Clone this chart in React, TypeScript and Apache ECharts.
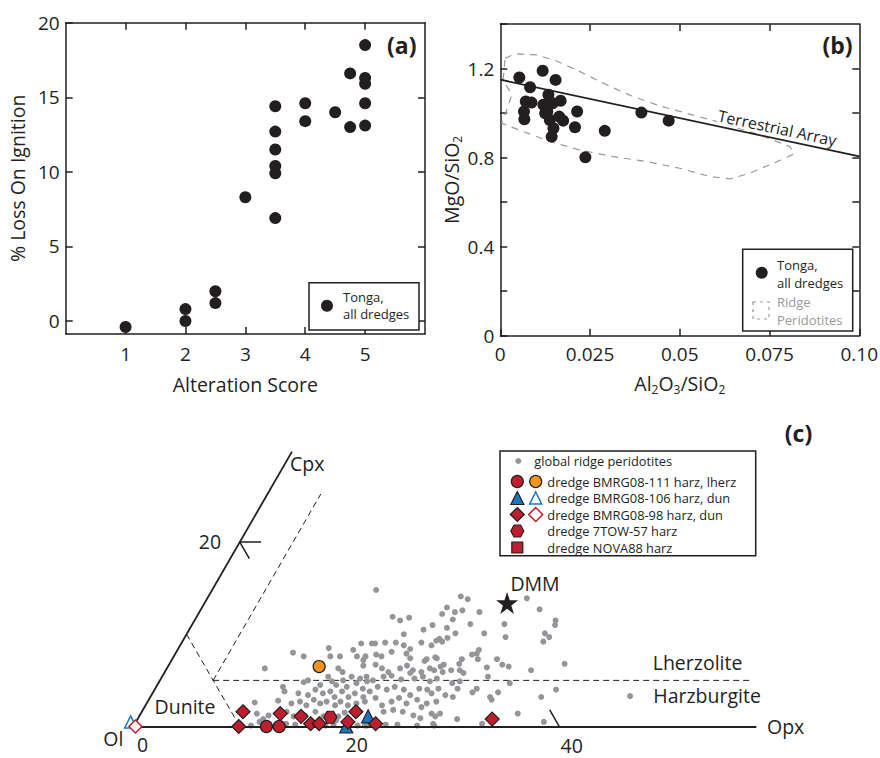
import { useEffect, useRef } from "react";
import * as echarts from "echarts";

const FONT = "'Open Sans', 'Noto Sans', sans-serif";
const INK = "#231f20";
const GREY = "#939598";
const RED = "#be1e2d";
const ORANGE = "#f7941d";
const BLUE = "#1c75bc";

// (a) LOI against alteration score
const alterationScore = [1, 2, 2, 2.5, 2.5, 3, 3.5, 3.5, 3.5, 3.5, 3.5, 3.5, 4, 4, 4.5, 4.75, 4.75, 5, 5, 5, 5, 5];
const lossOnIgnition = [-0.4, 0.8, 0, 2.0, 1.2, 8.3, 14.4, 12.7, 11.5, 10.4, 9.9, 6.9, 14.6, 13.4, 14.0, 16.6, 13.0, 18.5, 16.3, 15.9, 14.6, 13.1];
const scoreTicks = [1, 2, 3, 4, 5];
const loiTicks = [0, 5, 10, 15, 20];

// (b) MgO/SiO2 against Al2O3/SiO2
const tongaAl = [0.0053, 0.0118, 0.0154, 0.0083, 0.0071, 0.0087, 0.0066, 0.0067, 0.0134, 0.012, 0.0131, 0.0146, 0.0168, 0.0138, 0.0148, 0.0143, 0.0164, 0.0175, 0.0214, 0.0208, 0.0237, 0.0291, 0.0393, 0.0469, 0.0125];
const tongaMg = [1.16, 1.19, 1.149, 1.116, 1.052, 1.047, 1.007, 0.972, 1.082, 1.037, 1.007, 1.044, 1.055, 0.969, 0.932, 0.894, 0.984, 0.966, 1.007, 0.936, 0.801, 0.92, 1.002, 0.966, 0.999];
const ridgeFieldAl = [0.0013, 0.0041, 0.0101, 0.0157, 0.0222, 0.0296, 0.037, 0.0445, 0.0519, 0.0603, 0.0723, 0.0807, 0.0818, 0.076, 0.0695, 0.064, 0.0584, 0.05, 0.0408, 0.0315, 0.0222, 0.0138, 0.0064, 0.0004, 0.0018, 0.0032, 0.0008, 0.0013];
const ridgeFieldMg = [1.246, 1.266, 1.261, 1.234, 1.186, 1.127, 1.074, 1.032, 0.999, 0.962, 0.902, 0.849, 0.816, 0.774, 0.73, 0.704, 0.715, 0.752, 0.782, 0.804, 0.834, 0.872, 0.917, 0.954, 1.014, 1.082, 1.149, 1.246];
const terrestrialAl = [0, 0.1];
const terrestrialMg = [1.15, 0.805];
const alTicks = [0, 0.025, 0.05, 0.075, 0.1];
const mgTicks = [0, 0.2, 0.4, 0.6, 0.8, 1.0, 1.2, 1.4];
const mgLabels = [0, 0.4, 0.8, 1.2];

// (c) modal Opx / Cpx (Ol = remainder), [opx, cpx]
const ridgePeridotites: [number, number][] = [
  [15.4, 14.8], [23.7, 14.1], [24.5, 13.8], [18.4, 11.9], [19.3, 11.5], [20.0, 11.8], [23.0, 12.9], [22.9, 12.2],
  [24.0, 12.4], [24.2, 11.6], [24.6, 12.6], [26.1, 11.1], [26.3, 12.4], [22.6, 11.0], [22.0, 10.5], [24.1, 10.7],
  [20.4, 10.0], [25.2, 10.1], [24.7, 9.6], [23.8, 9.3], [23.6, 8.8], [22.5, 9.1], [16.9, 9.0], [17.9, 9.0],
  [18.2, 9.0], [19.1, 9.1], [20.1, 9.1], [21.0, 8.8], [21.8, 8.4], [14.1, 8.5], [16.5, 8.3], [29.3, 11.1],
  [30.1, 9.7], [30.0, 13.9], [31.8, 12.7], [33.9, 11.5], [34.1, 11.0], [33.6, 10.1], [33.9, 9.2], [34.2, 9.7],
  [24.0, 9.5], [27.9, 10.1], [28.3, 8.3], [11.0, 8.0], [12.2, 7.6], [9.2, 6.3], [27.2, 7.3], [27.2, 6.8],
  [30.0, 6.4], [30.5, 7.3], [31.3, 6.7], [32.0, 6.5], [34.3, 6.1], [37.1, 6.8], [27.9, 7.8], [28.3, 7.9],
  [28.7, 7.3], [23.9, 7.3], [24.6, 7.5], [25.2, 6.1], [25.8, 6.7], [27.6, 6.1], [28.1, 5.8], [27.6, 4.7],
  [28.4, 4.1], [30.6, 5.4], [33.0, 4.7], [30.2, 4.1], [30.0, 3.7], [31.9, 3.2], [32.2, 2.9], [32.4, 3.7],
  [37.7, 4.0], [36.7, 3.2], [45.0, 3.3], [30.0, 0.8], [32.6, 0.3], [35.4, 1.4], [38.3, 0.5], [27.8, 1.1],
  [28.0, 0.3], [28.1, 1.4], [24.4, 9.2], [18.0, 7.6], [18.9, 7.8], [19.5, 7.6], [20.2, 8.1], [21.7, 7.9],
  [22.3, 7.4], [23.8, 7.1], [24.8, 7.4], [18.3, 6.6], [19.4, 6.7], [20.2, 6.3], [21.0, 5.9], [21.9, 6.3],
  [22.4, 6.6], [23.2, 6.1], [24.1, 5.9], [24.7, 6.3], [25.6, 6.5], [26.1, 5.9], [26.8, 6.1], [19.2, 5.4],
  [20.0, 5.0], [20.8, 5.4], [21.5, 5.5], [22.6, 5.1], [23.1, 5.8], [23.8, 5.2], [24.5, 5.4], [25.4, 4.9],
  [25.9, 5.2], [28.2, 4.9], [19.5, 4.1], [20.3, 3.8], [20.8, 4.3], [21.8, 4.0], [22.4, 4.3], [23.4, 4.0],
  [24.3, 3.4], [24.8, 4.1], [25.6, 4.0], [26.2, 3.6], [26.6, 4.1], [27.6, 3.4], [28.4, 3.2], [20.4, 2.7],
  [21.2, 3.1], [22.2, 2.3], [22.9, 2.7], [23.4, 3.1], [24.4, 2.5], [25.2, 2.9], [26.0, 2.1], [26.3, 2.5],
  [27.1, 2.7], [22.7, 1.6], [23.5, 1.8], [24.5, 1.6], [25.7, 1.2], [26.5, 0.9], [27.3, 1.4], [21.7, 0.1],
  [23.6, 0.2], [24.7, 0.2], [26.6, 0.1], [28.2, 0.1], [14.7, 7.6], [15.6, 7.6], [17.2, 7.6], [18.0, 7.2],
  [16.1, 6.3], [16.7, 5.9], [13.9, 5.0], [13.6, 4.8], [15.3, 4.5], [15.6, 5.4], [16.2, 4.9], [16.8, 4.5],
  [17.2, 5.0], [17.9, 4.3], [17.8, 5.4], [18.6, 4.7], [18.7, 5.2], [19.5, 4.9], [11.9, 4.3], [12.3, 3.8],
  [13.7, 3.6], [14.7, 3.4], [15.1, 4.0], [16.0, 3.6], [16.6, 3.8], [17.3, 3.2], [17.7, 3.8], [18.6, 3.2],
  [19.0, 3.6], [20.0, 3.2], [10.1, 2.6], [12.2, 2.8], [13.6, 2.5], [14.3, 2.7], [15.1, 2.3], [15.5, 2.9],
  [16.3, 2.5], [16.8, 2.7], [17.8, 2.3], [18.1, 2.7], [19.0, 2.3], [19.7, 2.5], [10.9, 1.4], [12.1, 1.2],
  [13.6, 1.6], [14.5, 1.1], [15.5, 1.2], [16.3, 1.6], [17.3, 1.1], [17.8, 1.2], [18.7, 1.1], [19.1, 1.5],
  [11.0, 0.1], [11.6, 0.5], [14.2, 0.3], [15.1, 0.2], [18.0, 0.1], [18.7, 0.2], [18.7, 0.7], [21.0, 0.1],
  [21.9, 0.1], [11.8, 0.8],
];
const bmrg111Harz: [number, number][] = [[12.5, 0], [13.7, 0]];
const bmrg111Lherz: [number, number][] = [[14.2, 6.5]];
const bmrg106Harz: [number, number][] = [[20.0, 0], [21.5, 1.1]];
const bmrg106Dun: [number, number][] = [[-0.5, 0.5]];
const bmrg98Harz: [number, number][] = [
  [9.5, 1.6], [9.9, 0], [13.1, 1.4], [15.2, 1.1], [16.5, 0.3], [17.3, 0.3], [20.1, 1.6], [19.9, 0.5], [22.6, 0.3], [33.3, 0.8],
];
const bmrg98Dun: [number, number][] = [[0.2, 0]];
const tow57Harz: [number, number][] = [[18.0, 1.0]];
const nova88Harz: [number, number][] = [];
const dmm: [number, number][] = [[28.4, 13.4]];

const duniteBoundary: [number, number][] = [[0, 10], [9.1, 0.9]];
const cpx5Boundary: [number, number][] = [[5, 5], [55.7, 5]];
const opx5Boundary: [number, number][] = [[5, 5], [5, 25.2]];
const cpxTickMark: [number, number][] = [[2, 20], [0, 20], [1.8, 18.2]];
const opxTickMark: [number, number][] = [[40, 0], [38.2, 1.8]];
const opxAxisEnd: [number, number] = [58.5, 0];
const cpxAxisEnd: [number, number] = [0, 29.8];

const toTernary = ([opx, cpx]: [number, number]) => [opx + cpx / 2, (cpx * Math.sqrt(3)) / 2];

const STAR = "path://M12,0L14.9,8.6L24,8.6L16.6,14L19.4,22.8L12,17.4L4.6,22.8L7.4,14L0,8.6L9.1,8.6Z";
const HEX = "path://M0,5L3,0L9,0L12,5L9,10L3,10Z";

const axisLine = { color: INK, width: 1.5 };

function frameAxis(
  gridIndex: number,
  position: string,
  min: number,
  max: number,
  ticks: number[],
  labels: number[] | null,
  margin: number,
  formatter?: (v: number) => string,
) {
  return {
    type: "value",
    gridIndex,
    position,
    min,
    max,
    axisLine: { show: true, onZero: false, lineStyle: axisLine },
    axisTick: { show: true, inside: true, length: 7, customValues: ticks, lineStyle: axisLine },
    axisLabel: labels
      ? { show: true, customValues: labels, fontSize: 19, fontFamily: FONT, color: INK, margin, formatter }
      : { show: false },
    splitLine: { show: false },
  };
}

const nameStyle = {
  fontSize: 19.5,
  fontFamily: FONT,
  color: INK,
  lineHeight: 24,
  rich: { s: { fontSize: 12, fontFamily: FONT, color: INK, lineHeight: 12, verticalAlign: "bottom" } },
};

function txt(x: number, y: number, text: string, extra: Record<string, unknown> = {}) {
  const align = (extra.align as string) || "center";
  return {
    type: "text",
    x,
    y,
    z: 100,
    silent: true,
    style: {
      text,
      fontSize: 19.5,
      fontFamily: FONT,
      fill: INK,
      align,
      textAlign: align,
      verticalAlign: "middle",
      textVerticalAlign: "middle",
      ...extra,
    },
  };
}

const legendText = (x: number, y: number, text: string, fill = INK, fontSize = 13) =>
  txt(x, y, text, { fontSize, lineHeight: 14, align: "left", fill });

function triangle(cx: number, cy: number, s: number) {
  return [[cx, cy - s / 2], [cx + s / 2, cy + s / 2], [cx - s / 2, cy + s / 2]];
}
function diamond(cx: number, cy: number, s: number) {
  return [[cx, cy - s / 2], [cx + s / 2, cy], [cx, cy + s / 2], [cx - s / 2, cy]];
}
function hexagon(cx: number, cy: number) {
  return [[cx - 6.5, cy], [cx - 3.3, cy - 6], [cx + 3.3, cy - 6], [cx + 6.5, cy], [cx + 3.3, cy + 6], [cx - 3.3, cy + 6]];
}

const filled = (fill: string) => ({ fill, stroke: INK, lineWidth: 1.2 });
const open = (stroke: string) => ({ fill: "#fff", stroke, lineWidth: 1.5 });

function buildGraphic() {
  const rowY = [461, 481.5, 498, 514.5, 531, 547.5];
  const c1 = 517.3;
  const c2 = 535.7;
  const lc = (x: number, y: number, t: string) => legendText(x, y, t, INK, 12.8);
  return [
    txt(401.7, 45, "(a)", { fontSize: 23, fontWeight: "bold" }),
    txt(837.5, 45, "(b)", { fontSize: 23, fontWeight: "bold" }),
    txt(798.5, 433, "(c)", { fontSize: 23, fontWeight: "bold" }),
    // legend (a)
    { type: "rect", z: 99, shape: { x: 309, y: 282.7, width: 110, height: 47.3 }, style: { fill: "#fff", stroke: INK, lineWidth: 1.5 } },
    { type: "circle", z: 100, shape: { cx: 327, cy: 305.7, r: 6 }, style: { fill: INK } },
    legendText(343, 297, "Tonga,"),
    legendText(343, 314, "all dredges"),
    // legend (b)
    { type: "rect", z: 99, shape: { x: 742.7, y: 249.3, width: 110, height: 81.7 }, style: { fill: "#fff", stroke: INK, lineWidth: 1.5 } },
    { type: "circle", z: 100, shape: { cx: 761.7, cy: 272.7, r: 6 }, style: { fill: INK } },
    { type: "rect", z: 100, shape: { x: 753, y: 302, width: 16, height: 17 }, style: { fill: "none", stroke: "#999", lineWidth: 1.2, lineDash: [3, 4] } },
    legendText(777, 265, "Tonga,"),
    legendText(777, 282.7, "all dredges"),
    legendText(777, 301.7, "Ridge", "#9a9a9a"),
    legendText(777, 320, "Peridotites", "#9a9a9a"),
    // Terrestrial array label
    {
      type: "text",
      x: 777.3,
      y: 128,
      rotation: -0.21,
      z: 50,
      silent: true,
      style: {
        text: "Terrestrial Array",
        fontSize: 16,
        fontFamily: FONT,
        fill: INK,
        align: "center",
        textAlign: "center",
        verticalAlign: "middle",
        textVerticalAlign: "middle",
        backgroundColor: "#fff",
      },
    },
    // legend (c)
    { type: "rect", z: 99, shape: { x: 500, y: 451, width: 255.7, height: 104.7 }, style: { fill: "#fff", stroke: INK, lineWidth: 1.5 } },
    { type: "circle", z: 100, shape: { cx: 518.3, cy: rowY[0], r: 3 }, style: { fill: GREY } },
    lc(534.3, rowY[0], "global ridge peridotites"),
    { type: "circle", z: 100, shape: { cx: c1, cy: rowY[1], r: 6 }, style: filled(RED) },
    { type: "circle", z: 100, shape: { cx: c2, cy: rowY[1], r: 6 }, style: filled(ORANGE) },
    lc(547.3, rowY[1], "dredge BMRG08-111 harz, lherz"),
    { type: "polygon", z: 100, shape: { points: triangle(c1, rowY[2], 13) }, style: filled(BLUE) },
    { type: "polygon", z: 100, shape: { points: triangle(c2, rowY[2], 12) }, style: open(BLUE) },
    lc(547.3, rowY[2], "dredge BMRG08-106 harz, dun"),
    { type: "polygon", z: 100, shape: { points: diamond(c1, rowY[3], 14) }, style: filled(RED) },
    { type: "polygon", z: 100, shape: { points: diamond(c2, rowY[3], 14) }, style: open(RED) },
    lc(547.3, rowY[3], "dredge BMRG08-98 harz, dun"),
    { type: "polygon", z: 100, shape: { points: hexagon(c1, rowY[4]) }, style: filled(RED) },
    lc(547.3, rowY[4], "dredge 7TOW-57 harz"),
    { type: "rect", z: 100, shape: { x: c1 - 5.5, y: rowY[5] - 5.5, width: 11, height: 11 }, style: filled(RED) },
    lc(547.3, rowY[5], "dredge NOVA88 harz"),
    // (c) axis labels and field names
    txt(290, 463, "Cpx", { align: "left" }),
    txt(767, 726, "Opx", { align: "left" }),
    txt(113.3, 738.3, "Ol"),
    txt(210, 541, "20"),
    txt(142.7, 744.5, "0", { lineHeight: 18 }),
    txt(356.7, 744.5, "20", { lineHeight: 18 }),
    txt(571.7, 745, "40", { lineHeight: 18 }),
    txt(185, 706, "Dunite"),
    txt(535, 583.3, "DMM"),
    txt(652.7, 662.7, "Lherzolite", { align: "left" }),
    txt(653.3, 695, "Harzburgite", { align: "left" }),
  ];
}

function buildOption() {
  const tern = (pts: [number, number][]) => pts.map(toTernary);
  const cLine = (pts: [number, number][], dashed: boolean, width = 1) => ({
    type: "line",
    xAxisIndex: 4,
    yAxisIndex: 4,
    data: tern(pts),
    symbol: "none",
    silent: true,
    lineStyle: { color: INK, width, type: dashed ? [6, 4] : "solid" },
    z: 1,
  });
  const cScatter = (pts: [number, number][], symbol: string, size: number | number[], itemStyle: object, z = 5) => ({
    type: "scatter",
    xAxisIndex: 4,
    yAxisIndex: 4,
    data: tern(pts),
    symbol,
    symbolSize: size,
    itemStyle,
    silent: true,
    z,
  });
  const fillItem = (color: string) => ({ color, borderColor: INK, borderWidth: 1.2, opacity: 1 });
  const openItem = (color: string) => ({ color: "#fff", borderColor: color, borderWidth: 1.5, opacity: 1 });

  return {
    animation: false,
    textStyle: { fontFamily: FONT },
    grid: [
      { left: 65.7, top: 22.7, width: 359.3, height: 311.3, outerBoundsMode: "none" },
      { left: 500.3, top: 24, width: 359, height: 311.7, outerBoundsMode: "none" },
      { left: 80.05, top: 428.3, width: 718.875, height: 319.5, outerBoundsMode: "none" },
    ],
    xAxis: [
      {
        ...frameAxis(0, "bottom", 0, 6, scoreTicks, scoreTicks, 10),
        name: "Alteration Score",
        nameLocation: "middle",
        nameGap: 38,
        nameTextStyle: nameStyle,
      },
      frameAxis(0, "top", 0, 6, scoreTicks, null, 0),
      {
        ...frameAxis(1, "bottom", 0, 0.1, alTicks, alTicks, 9, (v: number) => (v === 0.1 ? "0.10" : String(v))),
        name: "Al{s|2}O{s|3}/SiO{s|2}",
        nameLocation: "middle",
        nameGap: 36,
        nameTextStyle: nameStyle,
      },
      frameAxis(1, "top", 0, 0.1, alTicks.slice(1, 4), null, 0),
      { type: "value", gridIndex: 2, min: -5, max: 62.5, show: false },
    ],
    yAxis: [
      {
        ...frameAxis(0, "left", -0.87, 20, loiTicks, loiTicks, 6),
        name: "% Loss On Ignition",
        nameLocation: "middle",
        nameGap: 36,
        nameTextStyle: nameStyle,
      },
      frameAxis(0, "right", -0.87, 20, loiTicks.slice(0, 4), null, 0),
      {
        ...frameAxis(1, "left", 0, 1.4, mgTicks, mgLabels, 6, (v: number) => String(v)),
        name: "MgO/SiO{s|2}",
        nameLocation: "middle",
        nameGap: 32,
        nameTextStyle: nameStyle,
      },
      frameAxis(1, "right", 0, 1.4, mgTicks.slice(1, 7), null, 0),
      { type: "value", gridIndex: 2, min: -2, max: 28, show: false },
    ],
    graphic: buildGraphic(),
    series: [
      {
        type: "scatter",
        xAxisIndex: 0,
        yAxisIndex: 0,
        data: alterationScore.map((x, i) => [x, lossOnIgnition[i]]),
        symbolSize: 12,
        itemStyle: { color: INK, opacity: 1 },
        silent: true,
      },
      {
        type: "line",
        xAxisIndex: 2,
        yAxisIndex: 2,
        data: ridgeFieldAl.map((x, i) => [x, ridgeFieldMg[i]]),
        symbol: "none",
        silent: true,
        lineStyle: { color: "#999", width: 1.2, type: [7, 6] },
        z: 1,
      },
      {
        type: "line",
        xAxisIndex: 2,
        yAxisIndex: 2,
        data: terrestrialAl.map((x, i) => [x, terrestrialMg[i]]),
        symbol: "none",
        silent: true,
        lineStyle: { color: INK, width: 1.8 },
        z: 2,
      },
      {
        type: "scatter",
        xAxisIndex: 2,
        yAxisIndex: 2,
        data: tongaAl.map((x, i) => [x, tongaMg[i]]),
        symbolSize: 12,
        itemStyle: { color: INK, opacity: 1 },
        silent: true,
        z: 3,
      },
      cLine(duniteBoundary, true),
      cLine(cpx5Boundary, true),
      cLine(opx5Boundary, true),
      cLine(cpxTickMark, false, 1.5),
      cLine(opxTickMark, false, 1.5),
      {
        type: "line",
        xAxisIndex: 4,
        yAxisIndex: 4,
        data: [],
        silent: true,
        markLine: {
          silent: true,
          symbol: ["none", "arrow"],
          symbolSize: [0, 15],
          label: { show: false },
          lineStyle: { color: INK, width: 1.8, type: "solid" },
          data: [
            [{ coord: toTernary([0, 0]) }, { coord: toTernary(opxAxisEnd) }],
            [{ coord: toTernary([0, 0]) }, { coord: toTernary(cpxAxisEnd) }],
          ],
        },
      },
      cScatter(ridgePeridotites, "circle", 6, { color: GREY, opacity: 1 }, 3),
      cScatter(bmrg111Harz, "circle", 12, fillItem(RED)),
      cScatter(bmrg111Lherz, "circle", 12, fillItem(ORANGE)),
      cScatter(tow57Harz, HEX, [13, 12], fillItem(RED)),
      cScatter(nova88Harz, "rect", 11, fillItem(RED)),
      cScatter(bmrg106Dun, "triangle", 12, openItem(BLUE)),
      cScatter(bmrg98Dun, "diamond", 13, openItem(RED)),
      cScatter(bmrg106Harz, "triangle", 13, fillItem(BLUE)),
      cScatter(bmrg98Harz, "diamond", 14, fillItem(RED)),
      cScatter(dmm, STAR, 22, { color: INK, opacity: 1 }),
    ],
  };
}

export default function App() {
  const ref = useRef<HTMLDivElement>(null);

  useEffect(() => {
    if (!ref.current) return;
    const chart = echarts.init(ref.current, undefined, { renderer: "svg" });
    chart.setOption(buildOption() as any);
    return () => chart.dispose();
  }, []);

  return (
    <div
      ref={ref}
      style={{ position: "absolute", left: 0, top: 0, width: 880, height: 758, background: "#fff" }}
    />
  );
}
